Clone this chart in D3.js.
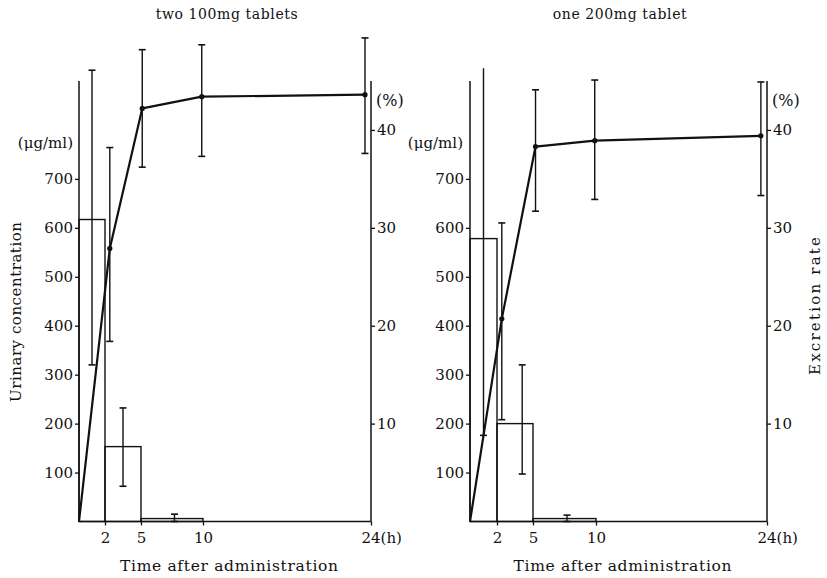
<!DOCTYPE html>
<html>
<head>
<meta charset="utf-8">
<script src="https://cdn.jsdelivr.net/npm/d3@7"></script>
<style>
  html, body { margin: 0; padding: 0; background: #fff; }
  svg { display: block; }
  text { font-family: "DejaVu Serif", "Liberation Serif", serif; fill: #111; }
</style>
</head>
<body>
<svg id="chart" width="827" height="578"></svg>
<script>
// Urinary concentration (bars, per collection interval) and cumulative excretion rate (line)
const panelTitles = ["two 100mg tablets", "one 200mg tablet"];
const timeTicks = [2, 5, 10, 24];
const concTicks = [100, 200, 300, 400, 500, 600, 700];
const rateTicks = [10, 20, 30, 40];

// collection intervals (h)
const intervalStart = [0, 2, 5];
const intervalEnd = [2, 5, 10];

// two 100mg tablets
const concTwo = [617, 153, 6];
const concTwoLow = [320, 72, 0];
const concTwoHigh = [922, 232, 15];
const concTwoErrTime = [1, 3.5, 7.7];
const concTwoCapTop = [true, true, true];
const rateTwoTimes = [0, 2.4, 5.1, 9.9, 23.5];
const rateTwo = [0, 27.9, 42.2, 43.4, 43.6];
const rateTwoLow = [null, 18.4, 36.2, 37.3, 37.6];
const rateTwoHigh = [null, 38.2, 48.2, 48.7, 49.4];

// one 200mg tablet
const concOne = [578, 200, 6];
const concOneLow = [176, 97, 0];
const concOneHigh = [926, 320, 13];
const concOneErrTime = [1, 4.1, 7.7];
const concOneCapTop = [false, true, true];
const rateOneTimes = [0, 2.4, 5.2, 9.9, 23.5];
const rateOne = [0, 20.7, 38.3, 38.9, 39.4];
const rateOneLow = [null, 10.4, 31.7, 32.9, 33.3];
const rateOneHigh = [null, 30.5, 44.1, 45.1, 44.9];

const panels = [
  {
    title: panelTitles[0], titleX: 227,
    xRange: [79, 105, 141, 203, 371],
    conc: concTwo, concLow: concTwoLow, concHigh: concTwoHigh,
    concErrTime: concTwoErrTime, capTop: concTwoCapTop,
    rateTimes: rateTwoTimes, rate: rateTwo, rateLow: rateTwoLow, rateHigh: rateTwoHigh,
    unitX: 73, yLabel: "Urinary concentration", yLabelX: 16
  },
  {
    title: panelTitles[1], titleX: 620,
    xRange: [470, 497, 533, 596, 767],
    conc: concOne, concLow: concOneLow, concHigh: concOneHigh,
    concErrTime: concOneErrTime, capTop: concOneCapTop,
    rateTimes: rateOneTimes, rate: rateOne, rateLow: rateOneLow, rateHigh: rateOneHigh,
    unitX: 463, yLabel: "Excretion rate", yLabelX: 815
  }
];

const svg = d3.select("#chart");
const yBottom = 521.5, yTop = 81;
const yConc = d3.scaleLinear().domain([0, 900]).range([yBottom, yTop]);
const yRate = d3.scaleLinear().domain([0, 45]).range([yBottom, yTop]);
const ink = "#111";
const capW = 3.5;

panels.forEach((p, pi) => {
  // piecewise-linear time scale through the labelled hours
  const x = d3.scaleLinear().domain([0, 2, 5, 10, 24]).range(p.xRange);
  const x0 = x(0), x24 = x(24);
  const g = svg.append("g");

  // title
  g.append("text").attr("x", p.titleX).attr("y", 19)
    .attr("text-anchor", "middle").attr("font-size", 14)
    .attr("letter-spacing", 0.6).text(p.title);

  // bars (concentration per interval)
  g.selectAll("rect.bar").data(p.conc).join("rect")
    .attr("class", "bar")
    .attr("x", (d, i) => x(intervalStart[i]))
    .attr("width", (d, i) => x(intervalEnd[i]) - x(intervalStart[i]))
    .attr("y", d => yConc(d))
    .attr("height", d => yBottom - yConc(d))
    .attr("fill", "none").attr("stroke", ink).attr("stroke-width", 1.4);

  // bar error bars
  p.conc.forEach((d, i) => {
    const cx = x(p.concErrTime[i]);
    const yl = yConc(p.concLow[i]), yh = yConc(p.concHigh[i]);
    g.append("line").attr("x1", cx).attr("x2", cx).attr("y1", yl).attr("y2", yh)
      .attr("stroke", ink).attr("stroke-width", 1.4);
    g.append("line").attr("x1", cx - capW).attr("x2", cx + capW).attr("y1", yl).attr("y2", yl)
      .attr("stroke", ink).attr("stroke-width", 1.6);
    if (p.capTop[i]) {
      g.append("line").attr("x1", cx - capW).attr("x2", cx + capW).attr("y1", yh).attr("y2", yh)
        .attr("stroke", ink).attr("stroke-width", 1.6);
    }
  });

  // axes: ticks and labels from d3 axes, frame lines drawn separately
  const leftAxis = d3.axisLeft(yConc).tickValues(concTicks).tickSize(4).tickPadding(2);
  const ga = g.append("g").attr("transform", `translate(${x0},0)`).call(leftAxis);
  const rightAxis = d3.axisRight(yRate).tickValues(rateTicks).tickSize(4).tickPadding(2);
  const gr = g.append("g").attr("transform", `translate(${x24},0)`).call(rightAxis);
  const bottomAxis = d3.axisBottom(x).tickValues(timeTicks).tickSize(4).tickPadding(7)
    .tickFormat(d => d === 24 ? "" : d);
  const gb = g.append("g").attr("transform", `translate(0,${yBottom})`).call(bottomAxis);
  [ga, gr, gb].forEach(a => {
    a.select(".domain").attr("d", null);
    a.selectAll(".tick line").attr("stroke", ink).attr("stroke-width", 1.3);
    a.selectAll(".tick text").attr("font-family", "DejaVu Serif")
      .attr("font-size", 15).attr("fill", ink);
  });
  g.append("line").attr("x1", x0).attr("x2", x0).attr("y1", yTop).attr("y2", yBottom)
    .attr("stroke", ink).attr("stroke-width", 1.5);
  g.append("line").attr("x1", x24).attr("x2", x24).attr("y1", yTop).attr("y2", yBottom)
    .attr("stroke", ink).attr("stroke-width", 1.5);
  g.append("line").attr("x1", x0).attr("x2", x24).attr("y1", yBottom).attr("y2", yBottom)
    .attr("stroke", ink).attr("stroke-width", 1.5);

  // "24(h)" label: the number sits under the tick, unit follows
  g.append("text").attr("x", x24 - 9.5).attr("y", 543)
    .attr("font-size", 15).text("24(h)");

  // unit labels
  g.append("text").attr("x", p.unitX).attr("y", 148).attr("text-anchor", "end")
    .attr("font-size", 15).text("(μg/ml)");
  g.append("text").attr("x", x24 + 5).attr("y", 106)
    .attr("font-size", 16).text("(%)");

  // x axis title
  g.append("text").attr("x", (x0 + x24) / 2 + 4).attr("y", 571)
    .attr("text-anchor", "middle").attr("font-size", 15.5)
    .attr("textLength", 218).attr("lengthAdjust", "spacing")
    .text("Time after administration");

  // y axis title
  const len = pi === 0 ? 180 : 138;
  const cy = pi === 0 ? 312 : 306;
  g.append("text").attr("transform", `translate(${p.yLabelX + 5},${cy}) rotate(-90)`)
    .attr("text-anchor", "middle").attr("font-size", 15)
    .attr("textLength", len).attr("lengthAdjust", "spacing")
    .text(p.yLabel);

  // excretion rate line with error bars
  const pts = p.rate.map((r, i) => ({ t: p.rateTimes[i], r, lo: p.rateLow[i], hi: p.rateHigh[i] }));
  pts.filter(d => d.lo !== null).forEach(d => {
    const cx = x(d.t), yl = yRate(d.lo), yh = yRate(d.hi);
    g.append("line").attr("x1", cx).attr("x2", cx).attr("y1", yl).attr("y2", yh)
      .attr("stroke", ink).attr("stroke-width", 1.4);
    [yl, yh].forEach(yy => g.append("line")
      .attr("x1", cx - capW).attr("x2", cx + capW).attr("y1", yy).attr("y2", yy)
      .attr("stroke", ink).attr("stroke-width", 1.6));
  });
  const line = d3.line().x(d => x(d.t)).y(d => yRate(d.r));
  g.append("path").datum(pts).attr("d", line)
    .attr("fill", "none").attr("stroke", ink).attr("stroke-width", 2.2)
    .attr("stroke-linejoin", "round");
  g.selectAll("circle.pt").data(pts.slice(1)).join("circle")
    .attr("class", "pt").attr("cx", d => x(d.t)).attr("cy", d => yRate(d.r))
    .attr("r", 2.6).attr("fill", ink);
});
</script>
</body>
</html>
